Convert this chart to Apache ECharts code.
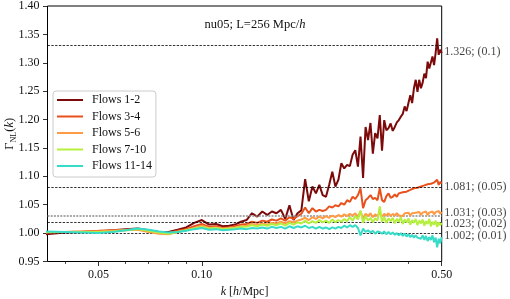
<!DOCTYPE html>
<html><head><meta charset="utf-8">
<script src="https://cdn.jsdelivr.net/npm/echarts@6/dist/echarts.min.js"></script>
<style>html,body{margin:0;padding:0;background:#fff}#c{width:510px;height:299px}</style>
</head><body><div id="c"></div>
<script>
// k in h/Mpc
const k = [
0.035,0.040,0.045,0.050,0.055,0.060,0.065,0.070,0.075,0.080,
0.085,0.090,0.095,0.100,0.105,0.110,0.115,0.120,0.125,0.130,
0.135,0.140,0.145,0.150,0.155,0.160,0.165,0.170,0.175,0.180,
0.185,0.190,0.195,0.200,0.205,0.210,0.215,0.220,0.225,0.230,
0.235,0.240,0.245,0.250,0.255,0.260,0.265,0.270,0.275,0.280,
0.285,0.290,0.295,0.300,0.305,0.310,0.315,0.320,0.325,0.330,
0.335,0.340,0.345,0.350,0.355,0.360,0.365,0.370,0.375,0.380,
0.385,0.390,0.395,0.400,0.405,0.410,0.415,0.420,0.425,0.430,
0.435,0.440,0.445,0.450,0.455,0.460,0.465,0.470,0.475,0.480,
0.485,0.490,0.495,0.500];

const flows12 = [
0.998,1.001,1.002,1.003,1.005,1.007,1.008,1.005,1.002,1.002,
1.006,1.010,1.018,1.023,1.015,1.016,1.012,1.013,1.015,1.020,
1.023,1.035,1.029,1.038,1.032,1.038,1.035,1.041,1.025,1.049,
1.023,1.035,1.040,1.095,1.056,1.082,1.070,1.085,1.067,1.064,
1.085,1.108,1.082,1.094,1.123,1.114,1.120,1.118,1.138,1.146,
1.117,1.170,1.097,1.187,1.164,1.194,1.140,1.176,1.167,1.208,
1.145,1.199,1.181,1.185,1.193,1.180,1.187,1.195,1.199,1.205,
1.210,1.223,1.215,1.229,1.243,1.229,1.255,1.270,1.249,1.270,
1.255,1.265,1.281,1.273,1.302,1.290,1.290,1.311,1.296,1.317,
1.343,1.314,1.323,1.317];

const flows34 = [
1.001,1.002,1.003,1.004,1.005,1.006,1.007,1.004,1.001,1.000,
1.004,1.007,1.012,1.016,1.011,1.012,1.009,1.010,1.012,1.015,
1.016,1.020,1.018,1.022,1.020,1.024,1.022,1.026,1.022,1.028,
1.025,1.030,1.034,1.045,1.035,1.044,1.038,1.041,1.039,1.041,
1.047,1.045,1.049,1.047,1.053,1.050,1.058,1.055,1.064,1.060,
1.067,1.079,1.044,1.058,1.062,1.067,1.060,1.062,1.058,1.079,
1.058,1.055,1.065,1.070,1.062,1.064,1.068,1.064,1.070,1.067,
1.072,1.070,1.073,1.071,1.076,1.074,1.079,1.077,1.080,1.078,
1.082,1.080,1.084,1.082,1.086,1.083,1.087,1.085,1.089,1.086,
1.094,1.085,1.090,1.087];

const flows56 = [
1.001,1.002,1.003,1.003,1.004,1.005,1.006,1.002,0.999,0.998,
1.002,1.005,1.009,1.013,1.009,1.010,1.008,1.009,1.010,1.012,
1.013,1.016,1.014,1.017,1.015,1.018,1.017,1.020,1.017,1.021,
1.019,1.022,1.024,1.027,1.023,1.028,1.025,1.029,1.026,1.030,
1.027,1.031,1.028,1.032,1.029,1.033,1.030,1.034,1.031,1.035,
1.029,1.038,1.026,1.034,1.030,1.035,1.028,1.033,1.030,1.036,
1.029,1.034,1.031,1.035,1.030,1.034,1.031,1.035,1.031,1.034,
1.030,1.035,1.032,1.036,1.031,1.035,1.032,1.036,1.033,1.037,
1.032,1.036,1.033,1.038,1.032,1.036,1.034,1.038,1.033,1.037,
1.034,1.039,1.034,1.037];

const flows710 = [
1.002,1.002,1.002,1.002,1.003,1.005,1.007,1.004,1.001,0.999,
1.002,1.005,1.008,1.011,1.008,1.009,1.007,1.008,1.009,1.011,
1.011,1.014,1.012,1.015,1.013,1.016,1.014,1.017,1.013,1.018,
1.015,1.019,1.017,1.022,1.017,1.021,1.018,1.023,1.019,1.022,
1.018,1.024,1.019,1.023,1.020,1.025,1.021,1.028,1.022,1.030,
1.024,1.040,1.018,1.030,1.022,1.027,1.019,1.026,1.022,1.047,
1.020,1.028,1.018,1.026,1.021,1.027,1.017,1.025,1.020,1.028,
1.016,1.024,1.019,1.026,1.015,1.023,1.018,1.025,1.014,1.022,
1.017,1.024,1.013,1.021,1.016,1.025,1.012,1.020,1.015,1.022,
1.011,1.019,1.014,1.018];

const flows1114 = [
1.003,1.002,1.001,1.000,1.002,1.005,1.008,1.006,1.003,1.001,
1.002,1.004,1.007,1.009,1.006,1.007,1.005,1.006,1.007,1.008,
1.007,1.009,1.008,1.010,1.008,1.011,1.009,1.011,1.008,1.012,
1.009,1.012,1.010,1.013,1.009,1.011,1.008,1.011,1.008,1.010,
1.007,1.010,1.008,1.011,1.009,1.013,1.010,1.014,1.011,1.014,
1.009,0.996,1.008,1.002,1.005,1.001,1.004,0.999,1.003,1.002,
0.999,1.003,0.998,1.002,0.998,1.001,0.997,1.000,0.996,1.000,
0.995,0.999,0.994,0.998,0.993,0.997,0.992,0.996,0.992,0.995,
0.990,0.996,0.988,0.995,0.986,0.993,0.988,0.996,0.984,0.992,
0.975,0.990,0.982,0.993];

const seriesNames = ['Flows 1-2','Flows 3-4','Flows 5-6','Flows 7-10','Flows 11-14'];
const seriesColors = ['#7d0a0a','#e8501c','#ff9b45','#b6f03e','#36dcc8'];

// reference lines and their annotations
const refLines = [1.326, 1.081, 1.031, 1.023, 1.002];
const refLabels = ['1.326; (0.1)','1.081; (0.05)','1.031; (0.03)','1.023; (0.02)','1.002; (0.01)'];
const refLabelY = [1.319, 1.082, 1.036, 1.017, 0.995];

const xMajorTicks = [0.05, 0.10, 0.50];
const xMinorTicks = [0.04, 0.06, 0.07, 0.08, 0.09, 0.2, 0.3, 0.4];
const kMin = 0.0355, kMax = 0.5;
const yMin = 0.95, yMax = 1.40, yStep = 0.05;

const FONT = 'Liberation Serif';
const allFlows = [flows12, flows34, flows56, flows710, flows1114];
const L = Math.log10;

const chart = echarts.init(document.getElementById('c'), null, {renderer: 'canvas'});

const lineSeries = allFlows.map((arr, si) => ({
  name: seriesNames[si],
  type: 'line',
  data: k.map((kk, i) => [L(kk), arr[i]]),
  showSymbol: false,
  symbol: 'none',
  smooth: false,
  lineStyle: {width: 2, color: seriesColors[si]},
  itemStyle: {color: seriesColors[si]},
  z: 3 + si
}));

const helper = {
  name: 'refs',
  type: 'scatter',
  data: refLabelY.map(v => [L(kMax), v]),
  symbolSize: 1,
  itemStyle: {color: 'rgba(0,0,0,0)'},
  silent: true,
  label: {
    show: true, position: 'right', distance: 2,
    formatter: p => refLabels[p.dataIndex],
    fontFamily: FONT, fontSize: 12, color: '#111'
  },
  markLine: {
    silent: true, symbol: 'none', animation: false,
    label: {show: false},
    data: refLines.map((v, i) => ({
      yAxis: v,
      lineStyle: i === 2 ? {color: '#8c8c8c', width: 1.6, type: [2, 1.2]} : {color: '#000', width: 0.8, type: [2.4, 1.4]}
    }))
  },
  z: 2
};

chart.setOption({
  animation: false,
  backgroundColor: '#fff',
  title: {
    text: '{a|nu05; L=256 Mpc/}{i|h}',
    left: 'center', top: 18, padding: 0,
    textStyle: {
      fontWeight: 'normal',
      rich: {
        a: {fontFamily: FONT, fontSize: 12.5, fontWeight: 'normal', color: '#111'},
        i: {fontFamily: FONT, fontSize: 12.5, fontWeight: 'normal', fontStyle: 'italic', color: '#111'}
      }
    }
  },
  grid: {
    left: 47.5, right: 68.3, top: 6, bottom: 37.5,
    containLabel: false, outerBoundsMode: 'none',
    show: true, borderColor: '#000', borderWidth: 1, backgroundColor: 'transparent'
  },
  legend: {
    data: seriesNames,
    orient: 'vertical', left: 53, top: 91,
    icon: 'rect', itemWidth: 26, itemHeight: 2, itemGap: 2.5,
    padding: [2, 4, 4, 4],
    borderColor: '#cccccc', borderWidth: 1, borderRadius: 3,
    backgroundColor: 'rgba(255,255,255,0.85)',
    textStyle: {fontFamily: FONT, fontSize: 12, color: '#111', lineHeight: 14, padding: [0, 0, 0, 4]}
  },
  xAxis: [{
    type: 'value', min: L(kMin), max: L(kMax),
    splitLine: {show: false},
    axisLine: {show: false},
    axisTick: {show: true, length: 4.5, lineStyle: {color: '#000', width: 0.8}, customValues: xMajorTicks.map(L)},
    axisLabel: {
      show: true, margin: 7, customValues: xMajorTicks.map(L),
      formatter: v => Math.pow(10, v).toFixed(2),
      fontFamily: FONT, fontSize: 12, color: '#111'
    },
    name: '{i|k} [{i|h}/Mpc]',
    nameLocation: 'middle', nameGap: 24, nameMoveOverlap: false,
    nameTextStyle: {
      fontFamily: FONT, fontSize: 12, color: '#111',
      rich: {i: {fontFamily: FONT, fontSize: 12, fontStyle: 'italic', color: '#111'}}
    }
  }, {
    type: 'value', min: L(kMin), max: L(kMax), position: 'bottom',
    splitLine: {show: false},
    axisLine: {show: false},
    axisLabel: {show: false},
    axisTick: {show: true, length: 2.5, lineStyle: {color: '#000', width: 0.7}, customValues: xMinorTicks.map(L)}
  }],
  yAxis: {
    type: 'value', min: yMin, max: yMax, interval: yStep,
    splitLine: {show: false},
    axisLine: {show: false},
    axisTick: {show: true, length: 4.5, lineStyle: {color: '#000', width: 0.8}},
    axisLabel: {margin: 8, formatter: v => v.toFixed(2), fontFamily: FONT, fontSize: 12, color: '#111'},
    name: '{a|Γ}{s|NL}{a|(}{i|k}{a|)}',
    nameLocation: 'middle', nameGap: 30, nameMoveOverlap: false,
    nameTextStyle: {
      rich: {
        a: {fontFamily: FONT, fontSize: 12.5, color: '#111', lineHeight: 15},
        s: {fontFamily: FONT, fontSize: 8, color: '#111', lineHeight: 15, verticalAlign: 'bottom', padding: [4, 0, 0, 0]},
        i: {fontFamily: FONT, fontSize: 12.5, fontStyle: 'italic', color: '#111', lineHeight: 15}
      }
    }
  },
  series: [helper].concat(lineSeries)
});
</script>
</body></html>
